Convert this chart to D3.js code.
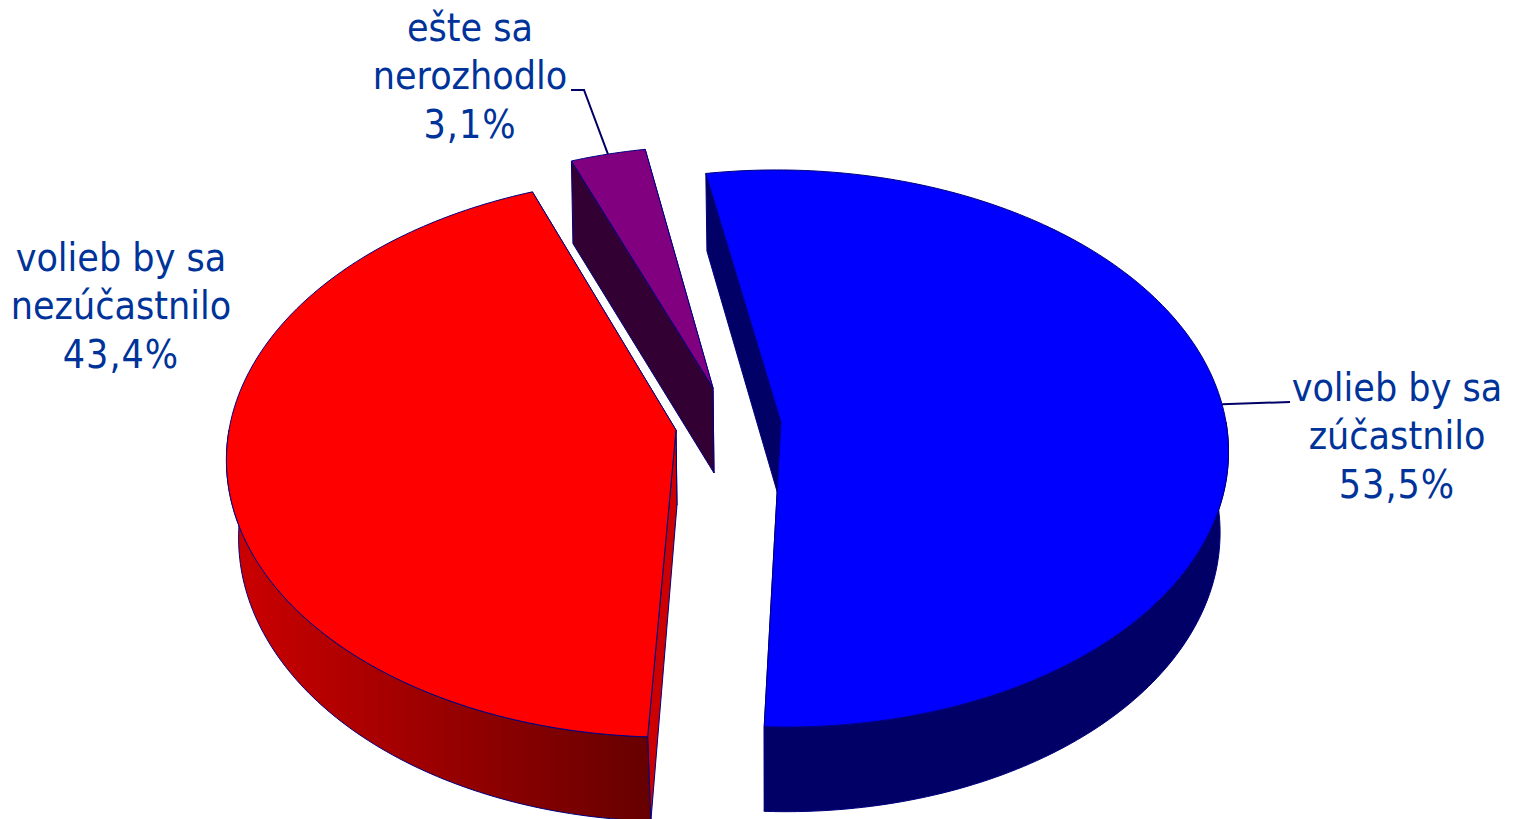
<!DOCTYPE html>
<meta charset="utf-8">
<style>
html, body { margin: 0; background: #fff; }
svg { display: block; }
.label { font-family: "DejaVu Sans", sans-serif; font-stretch: condensed; font-size: 39px; fill: #003399; }
.pct { letter-spacing: 1px; }
.edge { stroke: #000080; stroke-width: 1; stroke-linejoin: round; }
.leader { fill: none; stroke: #000066; stroke-width: 2; }
</style>
<svg width="1518" height="819"></svg>
<script src="https://d3js.org/d3.v7.min.js"></script>
<script>

// data
var categories = ["volieb by sa zúčastnilo", "volieb by sa nezúčastnilo", "ešte sa nerozhodlo"];
var labelLines = [["volieb by sa", "zúčastnilo"], ["volieb by sa", "nezúčastnilo"], ["ešte sa", "nerozhodlo"]];
var values = [53.5, 43.4, 3.1];

var topColors = ["#0000ff", "#ff0000", "#800080"];
var cutColors = ["#000066", "#cc0000", "#330033"];

// each slice has its own projected top and bottom plane, the pie is exploded
var topPlanes = [
  {x: 781, y: 422, rx: 445, ry: 276, k: 0.095, skew: -5},
  {x: 676, y: 430, rx: 447, ry: 278, k: 0.095, skew: 5.4},
  {x: 713, y: 388, rx: 427, ry: 265, k: 0.095, skew: 0}
];
var bottomPlanes = [
  {x: 781, y: 505, rx: 437, ry: 280, k: 0.087, skew: -4.6},
  {x: 677, y: 515, apexY: 505, rx: 437, ry: 285, k: 0.07, skew: 4.5},
  {x: 714, y: 473, rx: 440, ry: 277, k: 0.135, skew: 0}
];
var labelPos = [[1397, 401], [121, 271], [470, 41]];
var leaderBends = [[[1290, 402]], null, [[584, 90], [571, 90]]];

var svg = d3.select("svg");
var locale = d3.formatLocale({decimal: ",", thousands: " ", grouping: [3], currency: ["", ""]});
var fmt = locale.format(".1f");

var start = -10 * Math.PI / 180;
var arcs = d3.pie().sort(null).startAngle(start).endAngle(start + 2 * Math.PI)(values);

function project(plane, a) {
  var X = Math.sin(a), Y = Math.cos(a), den = 1 + plane.k * Y;
  return [plane.x + (plane.rx * X + plane.skew * Y) / den, plane.y - plane.ry * Y / den];
}

function arcPoints(plane, a0, a1) {
  var n = Math.max(2, Math.ceil(Math.abs(a1 - a0) / (Math.PI / 180)));
  return d3.range(n + 1).map(function(i) { return project(plane, a0 + (a1 - a0) * i / n); });
}

var line = d3.line();

var grad = svg.append("defs").append("linearGradient")
    .attr("id", "redWall")
    .attr("gradientUnits", "userSpaceOnUse")
    .attr("x1", 233).attr("x2", 650).attr("y1", 0).attr("y2", 0);
grad.append("stop").attr("offset", 0).attr("stop-color", "#cc0000");
grad.append("stop").attr("offset", 1).attr("stop-color", "#660000");

var wallFill = ["#000066", "url(#redWall)", "#330033"];

// purple is furthest back, then blue, red goes last
[2, 0, 1].forEach(function(i) {
  var d = arcs[i], t = topPlanes[i], b = bottomPlanes[i];
  var g = svg.append("g").attr("class", "slice").attr("data-name", categories[i]);
  var bottomApex = [b.x, b.apexY || b.y];

  // cut faces
  [d.endAngle, d.startAngle].forEach(function(a) {
    g.append("path")
        .attr("class", "edge")
        .attr("fill", cutColors[i])
        .attr("d", line([[t.x, t.y], project(t, a), project(b, a), bottomApex]) + "Z");
  });

  // outer wall, front half only
  var a0 = Math.max(d.startAngle, Math.PI / 2), a1 = Math.min(d.endAngle, 3 * Math.PI / 2);
  if (a1 > a0) {
    g.append("path")
        .attr("class", "edge")
        .attr("fill", wallFill[i])
        .attr("d", line(arcPoints(t, a0, a1).concat(arcPoints(b, a1, a0))) + "Z");
  }

  // top face
  g.append("path")
      .attr("class", "edge")
      .attr("fill", topColors[i])
      .attr("d", line([[t.x, t.y]].concat(arcPoints(t, d.startAngle, d.endAngle))) + "Z");

  // leader from the middle of the rim
  if (leaderBends[i]) {
    svg.append("path")
        .attr("class", "leader")
        .attr("d", line([project(t, (d.startAngle + d.endAngle) / 2)].concat(leaderBends[i])));
  }
});

values.forEach(function(v, i) {
  var text = svg.append("text")
      .attr("class", "label")
      .attr("text-anchor", "middle")
      .attr("x", labelPos[i][0])
      .attr("y", labelPos[i][1]);
  labelLines[i].forEach(function(s, j) {
    text.append("tspan")
        .attr("x", labelPos[i][0])
        .attr("dy", j ? 48.3 : 0)
        .text(s);
  });
  text.append("tspan")
      .attr("class", "pct")
      .attr("x", labelPos[i][0])
      .attr("dy", 48.3)
      .text(fmt(v) + "%");
});

</script>
